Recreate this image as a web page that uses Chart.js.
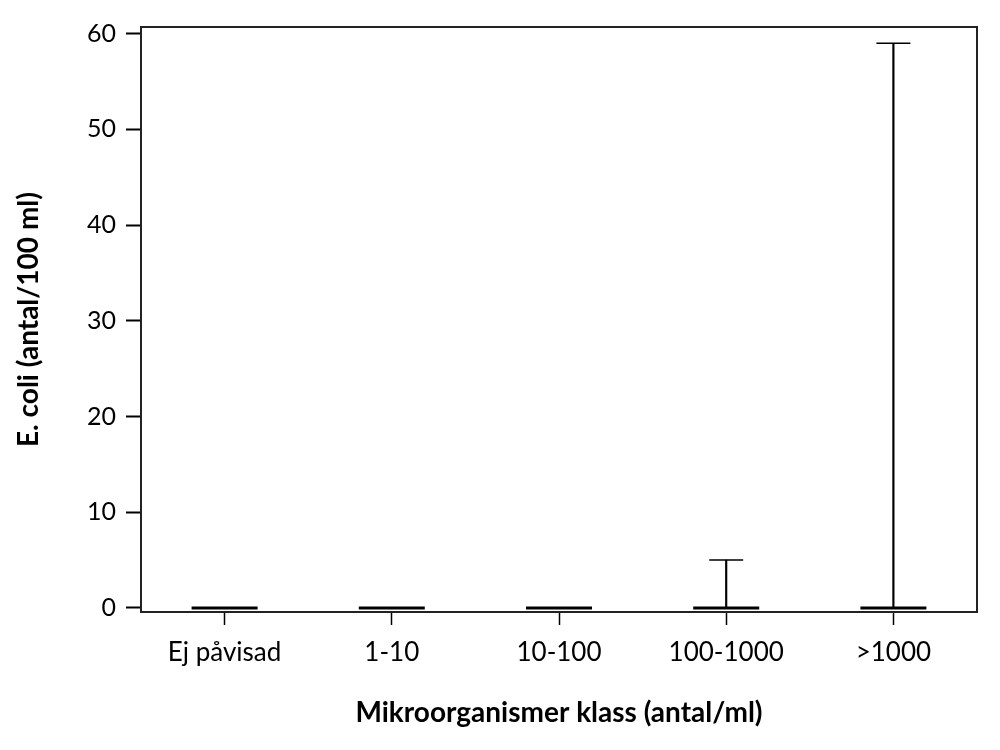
<!DOCTYPE html>
<html>
<head>
<meta charset="utf-8">
<script src="https://cdn.jsdelivr.net/npm/chart.js@4"></script>
<style>
  html, body { margin: 0; padding: 0; background: #fff; }
  #wrap { width: 1000px; height: 750px; }
</style>
</head>
<body>
<div id="wrap"><canvas id="boxChart" width="1000" height="750"></canvas></div>
<script>
// Categories and whisker values
const categories = ["Ej påvisad", "1-10", "10-100", "100-1000", ">1000"];
const minValues = [0, 0, 0, 0, 0];
const medianValues = [0, 0, 0, 0, 0];
const maxValues = [0, 0, 0, 5, 59];
const yTicks = [0, 10, 20, 30, 40, 50, 60];

// Draws the full frame around the plot area
const framePlugin = {
  id: "frame",
  afterDraw(chart) {
    const { ctx, chartArea: a } = chart;
    ctx.save();
    ctx.strokeStyle = "#222";
    ctx.lineWidth = 2;
    ctx.strokeRect(a.left, a.top, a.right - a.left, a.bottom - a.top);
    ctx.restore();
  }
};

Chart.defaults.font.family = "Lato, 'Open Sans', sans-serif";
Chart.defaults.color = "#000";

new Chart(document.getElementById("boxChart"), {
  type: "bar",
  data: {
    labels: categories,
    datasets: [
      {
        // vertical whisker line (min to max)
        type: "bar",
        data: minValues.map((v, i) => [v, maxValues[i]]),
        backgroundColor: "#000",
        barThickness: 1.5,
        order: 3
      },
      {
        // whisker cap at max
        type: "line",
        data: maxValues,
        showLine: false,
        pointStyle: "line",
        radius: 17,
        hoverRadius: 17,
        borderColor: "#000",
        borderWidth: 1.5,
        order: 2
      },
      {
        // median line
        type: "line",
        data: medianValues,
        showLine: false,
        pointStyle: "line",
        radius: 33,
        hoverRadius: 33,
        borderColor: "#000",
        borderWidth: 3,
        order: 1
      }
    ]
  },
  options: {
    responsive: false,
    animation: false,
    layout: { autoPadding: false, padding: { top: 27, right: 23, left: 0, bottom: 0 } },
    plugins: {
      legend: { display: false },
      tooltip: { enabled: false }
    },
    scales: {
      x: {
        offset: true,
        grid: {
          offset: false,
          drawOnChartArea: false,
          tickLength: 13,
          tickColor: "#000",
          tickWidth: 1.5
        },
        border: { color: "#222", width: 2 },
        ticks: { font: { size: 26 }, padding: 12, maxRotation: 0 },
        title: {
          display: true,
          text: "Mikroorganismer klass (antal/ml)",
          font: { size: 28, weight: "bold" },
          padding: { top: 4, bottom: 20 }
        },
        afterFit(scale) {
          scale.height = 138;
        }
      },
      y: {
        min: -0.42,
        max: 60.7,
        afterBuildTicks(scale) {
          scale.ticks = yTicks.map(v => ({ value: v }));
        },
        grid: {
          drawOnChartArea: false,
          tickLength: 15,
          tickColor: "#000",
          tickWidth: 2
        },
        border: { color: "#222", width: 2 },
        ticks: { font: { size: 25 }, padding: 10 },
        title: {
          display: true,
          text: "E. coli (antal/100 ml)",
          font: { size: 28, weight: "bold" },
          padding: { top: 12, bottom: 14 }
        },
        afterFit(scale) {
          scale.width = 141;
        }
      }
    }
  },
  plugins: [framePlugin]
});
</script>
</body>
</html>
